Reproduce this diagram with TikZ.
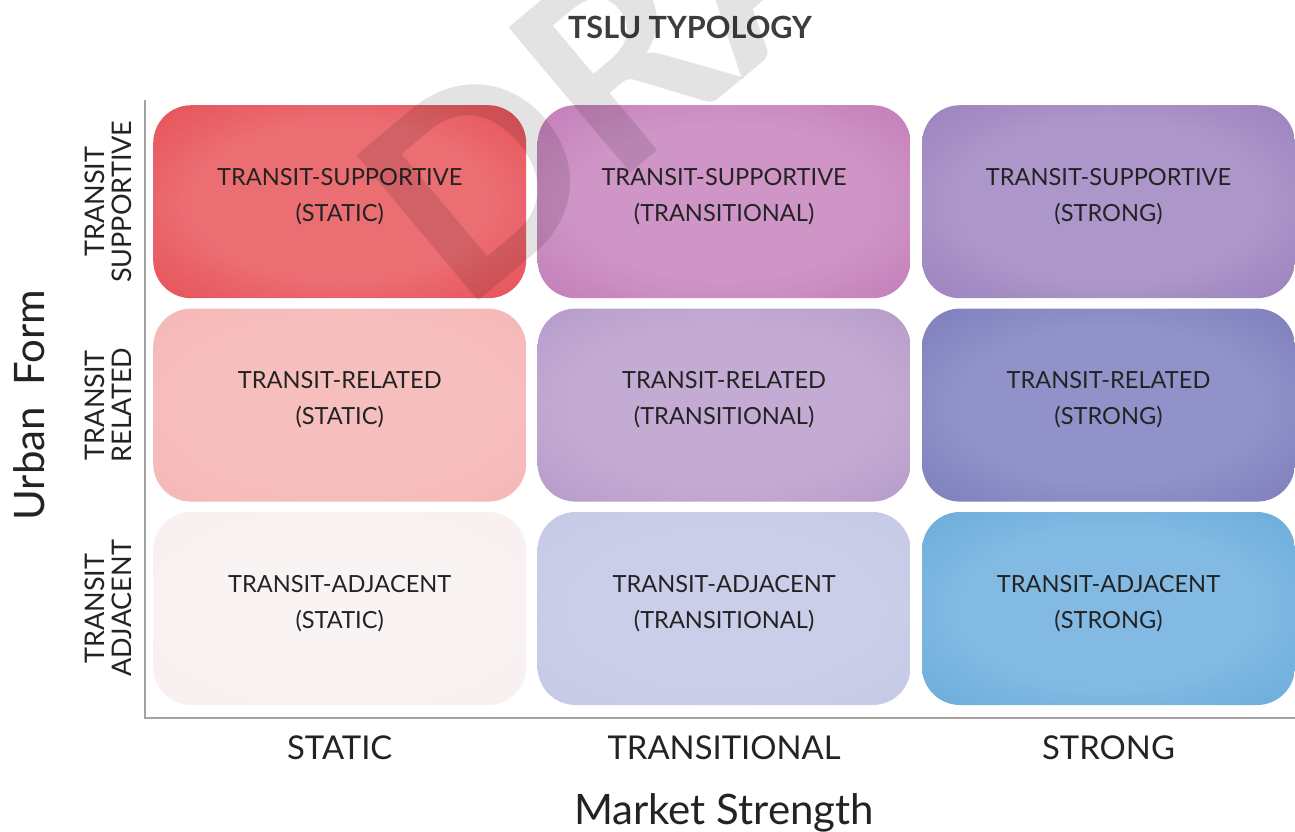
\documentclass[tikz,border=0pt]{standalone}
\usepackage{fontspec}
\setmainfont{Lato}
\usepackage{xcolor}
\usetikzlibrary{positioning}

\definecolor{axisgray}{HTML}{A3A3A3}
\definecolor{titlegray}{HTML}{3D3D3D}
\definecolor{inktext}{HTML}{232323}
% cell colours: centre / rim
\definecolor{supstatIn}{HTML}{EB6E73}\definecolor{supstatOut}{HTML}{E2353F}
\definecolor{suptranIn}{HTML}{CF95C7}\definecolor{suptranOut}{HTML}{B767AB}
\definecolor{supstrIn}{HTML}{AD97CA}\definecolor{supstrOut}{HTML}{8C6EB2}
\definecolor{relstatIn}{HTML}{F7BEBE}\definecolor{relstatOut}{HTML}{F4B1B3}
\definecolor{reltranIn}{HTML}{C4ABD3}\definecolor{reltranOut}{HTML}{A88CC1}
\definecolor{relstrIn}{HTML}{9192C9}\definecolor{relstrOut}{HTML}{6C6CB1}
\definecolor{adjstatIn}{HTML}{FAF3F3}\definecolor{adjstatOut}{HTML}{F7ECEC}
\definecolor{adjtranIn}{HTML}{CACEE9}\definecolor{adjtranOut}{HTML}{C1C5E3}
\definecolor{adjstrIn}{HTML}{82BAE3}\definecolor{adjstrOut}{HTML}{56A0D4}

\newcommand{\cellglow}[3]{%
  \pgfdeclareradialshading{#1}{\pgfpoint{0bp}{0bp}}%
    {color(0bp)=(#2); color(20bp)=(#2); color(50bp)=(#3)}}
\cellglow{supstatglow}{supstatIn}{supstatOut}
\cellglow{suptranglow}{suptranIn}{suptranOut}
\cellglow{supstrglow}{supstrIn}{supstrOut}
\cellglow{relstatglow}{relstatIn}{relstatOut}
\cellglow{reltranglow}{reltranIn}{reltranOut}
\cellglow{relstrglow}{relstrIn}{relstrOut}
\cellglow{adjstatglow}{adjstatIn}{adjstatOut}
\cellglow{adjtranglow}{adjtranIn}{adjtranOut}
\cellglow{adjstrglow}{adjstrIn}{adjstrOut}

\begin{document}
\begin{tikzpicture}[
    x=1pt, y=-1pt,
    node distance=10pt and 11pt,
    cell/.style={rounded corners=38pt,minimum width=373pt,minimum height=193pt,inner sep=0pt,align=center,
      text=inktext,font=\fontsize{23.6}{36}\selectfont,execute at end node={\rule[-14pt]{0pt}{0pt}}},
    rowlabel/.style={rotate=90,align=center,inner sep=0pt,text=inktext,font=\fontsize{27}{27}\selectfont},
    collabel/.style={inner sep=0pt,text=inktext,font=\fontsize{32.8}{32.8}\selectfont},
    axistitle/.style={inner sep=0pt,text=inktext,font=\fontsize{42}{42}\selectfont},
    axis/.style={draw=axisgray,line width=1.6pt},
    watermark/.style={rotate=40,inner sep=0pt,text=black,text opacity=0.11,font=\fontsize{262}{262}\selectfont\bfseries},
  ]
  \useasboundingbox (0,0) rectangle (1295,831);

  % Title
  \node[inner sep=0pt,text=titlegray,font=\fontsize{30.6}{30.6}\selectfont\bfseries] (title) at (690,27) {TSLU TYPOLOGY};

  % Axes
  \coordinate (ytop) at (145,100);
  \coordinate (origin) at (145,718);
  \coordinate (xend) at (1295,718);
  \draw[axis] (ytop) -- (origin) -- (xend);

  % Cells
  \node[cell,shading=supstatglow,anchor=north west] (supstat) at (153,105) {TRANSIT-SUPPORTIVE\\(STATIC)};
  \node[cell,shading=suptranglow,right=of supstat] (suptran) {TRANSIT-SUPPORTIVE\\(TRANSITIONAL)};
  \node[cell,shading=supstrglow,right=of suptran] (supstr) {TRANSIT-SUPPORTIVE\\(STRONG)};
  \node[cell,shading=relstatglow,below=of supstat] (relstat) {TRANSIT-RELATED\\(STATIC)};
  \node[cell,shading=reltranglow,right=of relstat] (reltran) {TRANSIT-RELATED\\(TRANSITIONAL)};
  \node[cell,shading=relstrglow,right=of reltran] (relstr) {TRANSIT-RELATED\\(STRONG)};
  \node[cell,shading=adjstatglow,below=of relstat] (adjstat) {TRANSIT-ADJACENT\\(STATIC)};
  \node[cell,shading=adjtranglow,right=of adjstat] (adjtran) {TRANSIT-ADJACENT\\(TRANSITIONAL)};
  \node[cell,shading=adjstrglow,right=of adjtran] (adjstr) {TRANSIT-ADJACENT\\(STRONG)};

  % Watermark
  \begin{scope}
    \clip (0,0) rectangle (1295,831);
    \node[watermark,anchor=base west] (draft) at (462,315) {DRAFT};
  \end{scope}

  % Row labels
  \node[rowlabel,left=21pt of supstat,anchor=south] (suprow) {TRANSIT\\SUPPORTIVE};
  \node[rowlabel,left=21pt of relstat,anchor=south] (relrow) {TRANSIT\\RELATED};
  \node[rowlabel,left=21pt of adjstat,anchor=south] (adjrow) {TRANSIT\\ADJACENT};
  \node[axistitle,rotate=90,anchor=south] (uform) at ([xshift=-40pt]relrow.north) {Urban\ \ Form};

  % Column labels
  \node[collabel,below=30pt of adjstat] (statcol) {STATIC};
  \node[collabel,below=30pt of adjtran] (trancol) {TRANSITIONAL};
  \node[collabel,below=30pt of adjstr] (strcol) {STRONG};
  \node[axistitle,below=34pt of trancol] (mstrength) {Market Strength};
\end{tikzpicture}
\end{document}
